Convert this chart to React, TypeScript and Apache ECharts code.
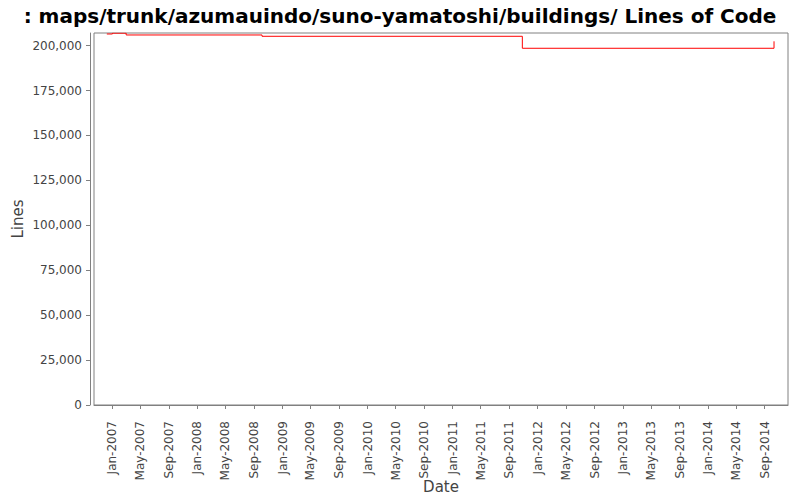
import { useEffect, useRef } from 'react'
import * as echarts from 'echarts'

const titleText = ': maps/trunk/azumauindo/suno-yamatoshi/buildings/ Lines of Code'

// dates where the line count changed, and the count from that date on
const changeDates = ['2006-12-09', '2007-01-02', '2007-03-02', '2008-10-05', '2011-10-27', '2014-10-11']
const lineCounts = [206450, 206900, 205900, 205170, 198500, 202380]

// x tick labels every four months
const tickMonths = [
  '2007-01', '2007-05', '2007-09', '2008-01', '2008-05', '2008-09',
  '2009-01', '2009-05', '2009-09', '2010-01', '2010-05', '2010-09',
  '2011-01', '2011-05', '2011-09', '2012-01', '2012-05', '2012-09',
  '2013-01', '2013-05', '2013-09', '2014-01', '2014-05', '2014-09'
]
const yTicks = [0, 25000, 50000, 75000, 100000, 125000, 150000, 175000, 200000]

const xStart = '2006-10-15'
const xEnd = '2014-12-10'
const yMax = 207000

const monthNames = ['Jan', 'Feb', 'Mar', 'Apr', 'May', 'Jun', 'Jul', 'Aug', 'Sep', 'Oct', 'Nov', 'Dec']

function toTime(s: string): number {
  const [y, m, d] = s.split('-').map(Number)
  return Date.UTC(y, m - 1, d || 1)
}

function formatMonth(v: number): string {
  const d = new Date(v)
  return `${monthNames[d.getUTCMonth()]}-${d.getUTCFullYear()}`
}

const font = 'DejaVu Sans, Verdana, sans-serif'

export default function App() {
  const chartRef = useRef<HTMLDivElement>(null)

  useEffect(() => {
    if (!chartRef.current) return
    const chart = echarts.init(chartRef.current, undefined, { renderer: 'svg' })

    const xTickValues = tickMonths.map(toTime)

    const option: echarts.EChartsOption = {
      animation: false,
      backgroundColor: '#ffffff',
      title: {
        text: titleText,
        left: 'center',
        top: 1,
        textStyle: {
          fontFamily: font,
          fontSize: 20,
          fontWeight: 'bold',
          color: '#000000'
        }
      },
      grid: {
        left: 94,
        right: 12,
        top: 33,
        bottom: 95,
        outerBoundsMode: 'none',
        containLabel: false,
        show: true,
        borderColor: '#808080',
        borderWidth: 1,
        backgroundColor: '#ffffff'
      } as any,
      xAxis: {
        type: 'value',
        min: toTime(xStart),
        max: toTime(xEnd),
        offset: 4,
        name: 'Date',
        nameLocation: 'middle',
        nameGap: 70,
        nameMoveOverlap: false,
        nameTextStyle: { fontFamily: font, fontSize: 15, color: '#444444' },
        axisLine: { show: true, lineStyle: { color: '#808080' } },
        axisTick: {
          show: true,
          length: 4,
          customValues: xTickValues,
          lineStyle: { color: '#808080' }
        },
        axisLabel: {
          rotate: 90,
          margin: 12,
          customValues: xTickValues,
          formatter: (v: number) => formatMonth(v),
          fontFamily: font,
          fontSize: 12,
          color: '#444444'
        },
        splitLine: { show: false }
      } as any,
      yAxis: {
        type: 'value',
        min: 0,
        max: yMax,
        offset: 4,
        name: 'Lines',
        nameLocation: 'middle',
        nameGap: 65,
        nameMoveOverlap: false,
        nameTextStyle: { fontFamily: font, fontSize: 15, color: '#444444' },
        axisLine: { show: true, lineStyle: { color: '#808080' } },
        axisTick: {
          show: true,
          length: 4,
          customValues: yTicks,
          lineStyle: { color: '#808080' }
        },
        axisLabel: {
          margin: 8,
          customValues: yTicks,
          formatter: (v: number) => v.toLocaleString('en-US'),
          fontFamily: font,
          fontSize: 12,
          color: '#444444'
        },
        splitLine: { show: false }
      } as any,
      series: [
        {
          type: 'line',
          step: 'end',
          showSymbol: false,
          lineStyle: { color: '#ff0000', width: 1 },
          itemStyle: { color: '#ff0000' },
          data: changeDates.map((d, i) => [toTime(d), lineCounts[i]])
        }
      ]
    }

    chart.setOption(option)
    return () => chart.dispose()
  }, [])

  return (
    <div
      ref={chartRef}
      style={{ position: 'absolute', left: 0, top: 0, width: 800, height: 500 }}
    />
  )
}
